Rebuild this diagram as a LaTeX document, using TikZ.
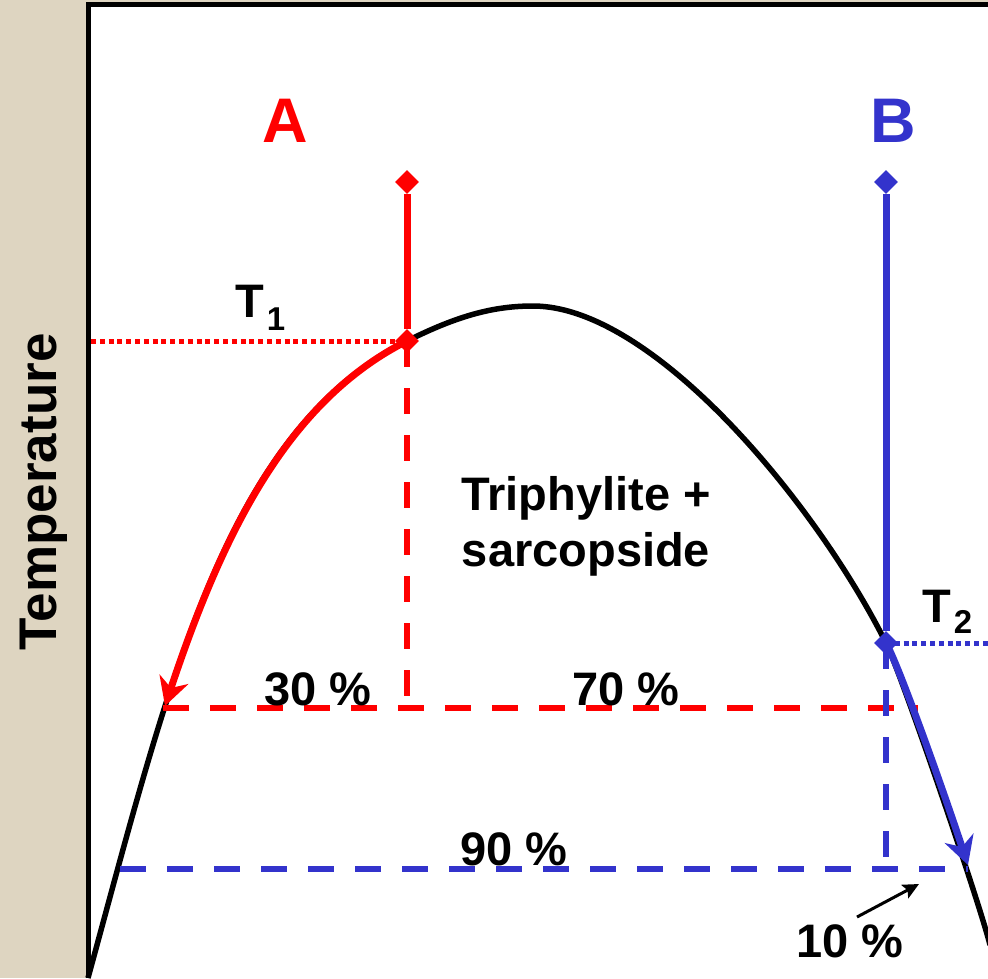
\documentclass[tikz,border=0pt]{standalone}
\usepackage{fontspec}
\setmainfont{Liberation Sans}
\usetikzlibrary{arrows.meta,shapes.geometric}
\definecolor{paper}{RGB}{222,213,193}
\definecolor{phred}{RGB}{255,0,0}
\definecolor{phblue}{RGB}{51,51,204}

\begin{document}
\begin{tikzpicture}[x=1pt,y=-1pt,
    lbl/.style={font=\fontsize{47}{56}\selectfont\bfseries,inner sep=0pt},
    biglbl/.style={font=\fontsize{63}{70}\selectfont\bfseries,inner sep=0pt},
    diam/.style={diamond,inner sep=0pt,minimum size=24pt},
    solidln/.style={line width=7pt},
    dashln/.style={line width=6pt,dash pattern=on 26pt off 21pt},
    dotln/.style={line width=5pt,dash pattern=on 5pt off 3.8pt},
    cooltip/.style={-{Stealth[length=28pt,width=30pt,inset=9pt]}}]
  \useasboundingbox (0,0) rectangle (988,978);
  % paper strip and frame
  \fill[paper] (0,0) rectangle (988,978);
  \fill[white] (88,5) rectangle (988,978);
  \draw[line width=5pt] (88.5,978) -- (88.5,4.5) -- (988,4.5);
  % solvus
  \draw[line width=5.5pt] (88,978) .. controls (170,678) and (227,431) .. (407,341)
    .. controls (457,316) and (493,306) .. (533,306)
    .. controls (653,306) and (816,503) .. (886,643)
    .. controls (901,673) and (980,904) .. (990,945);
  % key points
  \node[diam,fill=phred] (Atop) at (407,182) {};
  \node[diam,fill=phred] (T1pt) at (407,341) {};
  \node[diam,fill=phblue] (Btop) at (886,182) {};
  \node[diam,fill=phblue] (T2pt) at (886,643) {};
  \coordinate (T1left) at (91,341);
  \coordinate (T2right) at (988,643);
  \coordinate (Afoot) at (407,708);
  \coordinate (Bfoot) at (886,869);
  \coordinate (redL) at (163,708);
  \coordinate (redR) at (918,708);
  \coordinate (blueL) at (120,869);
  \coordinate (blueR) at (968,869);
  \coordinate (Aend) at (165,706);
  \coordinate (Bend) at (968,865);
  % path A
  \draw[phred,dotln] (T1left) -- (T1pt.center);
  \draw[phred,dashln] (T1pt.center) -- (Afoot);
  \draw[phred,dashln] (redL) -- (redR);
  \draw[phred,solidln] (Atop) -- (T1pt);
  \draw[phred,solidln,cooltip] (T1pt.center) .. controls (288,401) and (223,532) .. (Aend);
  % path B
  \draw[phblue,dotln] (T2pt.center) -- (T2right);
  \draw[phblue,dashln] (T2pt.center) -- (Bfoot);
  \draw[phblue,dashln] (blueL) -- (blueR);
  \draw[phblue,solidln] (Btop) -- (T2pt);
  \draw[phblue,solidln,cooltip] (T2pt.center) .. controls (898,664) and (939,778) .. (Bend);
  % labels
  \node[biglbl,text=phred,anchor=base] (labA) at (285,142) {A};
  \node[biglbl,text=phblue,anchor=base] (labB) at (893,142) {B};
  \node[lbl,anchor=base west] (labT1) at (235,317)
    {T\kern3pt\raisebox{-13pt}{\fontsize{33}{33}\selectfont 1}};
  \node[lbl,anchor=base west] (labT2) at (922,622)
    {T\kern3pt\raisebox{-11pt}{\fontsize{33}{33}\selectfont 2}};
  \node[lbl,align=center] (phase) at (586,526) {Triphylite +\\sarcopside};
  \node[lbl,anchor=base] (p30) at (318,705) {30 \%};
  \node[lbl,anchor=base] (p70) at (626,705) {70 \%};
  \node[lbl,anchor=base] (p90) at (514,865) {90 \%};
  \node[lbl,anchor=base] (p10) at (850,957) {10 \%};
  \node[lbl,font=\fontsize{53}{60}\selectfont\bfseries,rotate=90,anchor=base]
    (temp) at (56,492) {Temperature};
  % pointer to the 10 % gap
  \coordinate (ptrTail) at (857,917);
  \coordinate (ptrHead) at (919,884);
  \draw[line width=3pt,-{Stealth[length=16pt,width=15pt,inset=3pt]}] (ptrTail) -- (ptrHead);
\end{tikzpicture}
\end{document}
